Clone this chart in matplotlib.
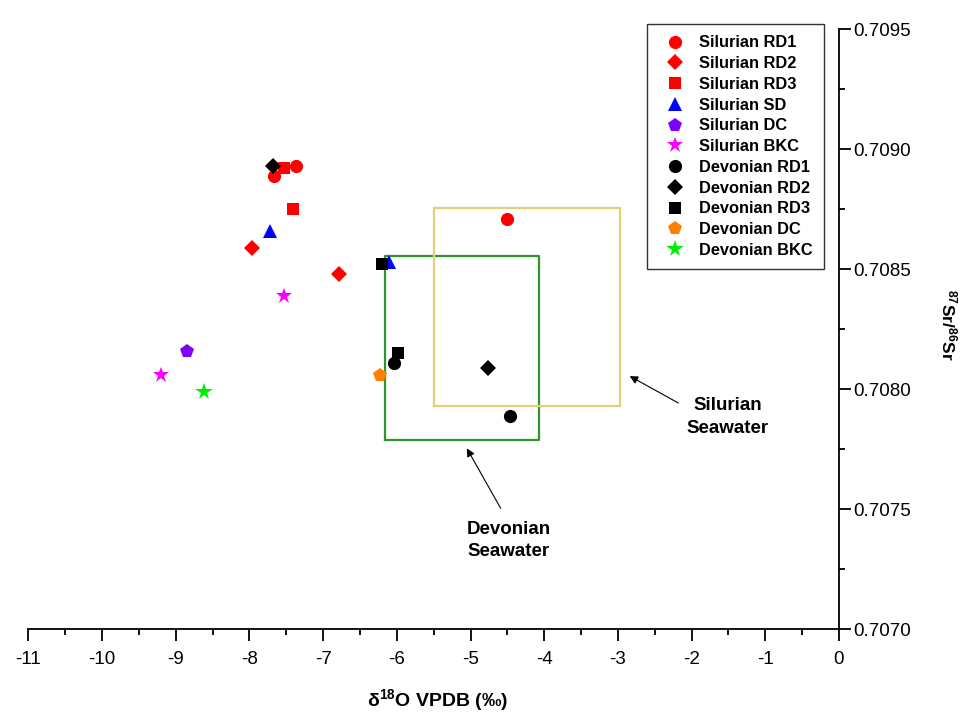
import matplotlib
matplotlib.use("Agg")
import matplotlib.pyplot as plt
from matplotlib.ticker import MultipleLocator, FormatStrFormatter

plt.rcParams['font.family'] = ['Liberation Sans', 'DejaVu Sans']
plt.rcParams['mathtext.fontset'] = 'custom'
plt.rcParams['mathtext.rm'] = 'Liberation Sans'
plt.rcParams['mathtext.bf'] = 'Liberation Sans:bold'

# ---- data ----
series_names = ["Silurian RD1", "Silurian RD2", "Silurian RD3", "Silurian SD", "Silurian DC",
                "Silurian BKC", "Devonian RD1", "Devonian RD2", "Devonian RD3", "Devonian DC",
                "Devonian BKC"]
sil_rd1_x = [-7.37, -7.66, -4.50]
sil_rd1_y = [0.70893, 0.70889, 0.70871]
sil_rd2_x = [-7.96, -6.79]
sil_rd2_y = [0.70859, 0.70848]
sil_rd3_x = [-7.53, -7.41]
sil_rd3_y = [0.70892, 0.70875]
sil_sd_x = [-7.72, -6.11]
sil_sd_y = [0.70866, 0.70853]
sil_dc_x = [-8.85]
sil_dc_y = [0.70816]
sil_bkc_x = [-9.20, -7.53]
sil_bkc_y = [0.70806, 0.70839]
dev_rd1_x = [-6.04, -4.46]
dev_rd1_y = [0.70811, 0.70789]
dev_rd2_x = [-7.68, -4.76]
dev_rd2_y = [0.70893, 0.70809]
dev_rd3_x = [-6.20, -5.98]
dev_rd3_y = [0.70852, 0.70815]
dev_dc_x = [-6.23]
dev_dc_y = [0.70806]
dev_bkc_x = [-8.62]
dev_bkc_y = [0.70799]

# seawater boxes: (xmin, xmax, ymin, ymax)
devonian_box = (-6.16, -4.07, 0.70779, 0.708555)
silurian_box = (-5.50, -2.97, 0.70793, 0.708754)

# annotation text positions and arrows (tail, head)
devonian_text = (-4.48, 0.70737)
silurian_text = (-1.51, 0.707885)
devonian_arrow = ((-4.59, 0.707504), (-5.05, 0.707754))
silurian_arrow = ((-2.18, 0.707943), (-2.84, 0.708055))

xs = [sil_rd1_x, sil_rd2_x, sil_rd3_x, sil_sd_x, sil_dc_x, sil_bkc_x,
      dev_rd1_x, dev_rd2_x, dev_rd3_x, dev_dc_x, dev_bkc_x]
ys = [sil_rd1_y, sil_rd2_y, sil_rd3_y, sil_sd_y, sil_dc_y, sil_bkc_y,
      dev_rd1_y, dev_rd2_y, dev_rd3_y, dev_dc_y, dev_bkc_y]
markers = ['o', 'D', 's', '^', 'p', '*', 'o', 'D', 's', 'p', '*']
colors = ['#ff0000', '#ff0000', '#ff0000', '#0000ff', '#7f00ff', '#ff00ff',
          '#000000', '#000000', '#000000', '#ff8000', '#00ee00']
msizes = [9.5, 8, 8, 10, 10.5, 12, 9.5, 8, 8, 10.5, 13]

fig = plt.figure(figsize=(9.65, 7.15), dpi=100)
ax = fig.add_axes([28.3/965, 85.7/715, (839-28.3)/965, 600/715])

def draw_box(b, color):
    x0, x1, y0, y1 = b
    ax.plot([x0, x1, x1, x0, x0], [y0, y0, y1, y1, y0], color=color, lw=1.6, zorder=1)

draw_box(devonian_box, '#2f962f')
draw_box(silurian_box, '#e3cf78')

handles = []
for name, x, y, m, c, s in zip(series_names, xs, ys, markers, colors, msizes):
    h, = ax.plot(x, y, linestyle='none', marker=m, color=c, markersize=s,
                 markeredgewidth=0, label=name, zorder=3)
    handles.append(h)

ax.set_xlim(-11, 0)
ax.set_ylim(0.7070, 0.7095)
ax.spines['top'].set_visible(False)
ax.spines['left'].set_visible(False)
for sp in ('bottom', 'right'):
    ax.spines[sp].set_linewidth(1.3)
ax.yaxis.tick_right()
ax.yaxis.set_label_position('right')
ax.xaxis.set_major_locator(MultipleLocator(1))
ax.xaxis.set_minor_locator(MultipleLocator(0.5))
ax.yaxis.set_major_locator(MultipleLocator(0.0005))
ax.yaxis.set_minor_locator(MultipleLocator(0.00025))
ax.yaxis.set_major_formatter(FormatStrFormatter('%.4f'))
ax.xaxis.set_major_formatter(FormatStrFormatter('%d'))
ax.tick_params(which='major', direction='out', length=8.5, width=1.3)
ax.tick_params(which='minor', direction='out', length=4.5, width=1.3)
ax.tick_params(axis='x', pad=7, labelsize=13.5)
ax.tick_params(axis='y', pad=2, labelsize=13.5)

xl = ax.set_xlabel(r'$\mathbf{\delta^{18}O}$ VPDB (‰)', fontsize=14, fontweight='bold')
xl.set_va('center')
ax.xaxis.set_label_coords(0.505, -0.118)
yl = ax.set_ylabel(r'$\mathbf{^{87}Sr/^{86}Sr}$', fontsize=12.5, fontweight='bold', rotation=-90)
yl.set_va('center')
yl.set_ha('center')
ax.yaxis.set_label_coords(1.135, 0.507)

# annotations
for txt, pos in (('Devonian\nSeawater', devonian_text), ('Silurian\nSeawater', silurian_text)):
    ax.text(pos[0], pos[1], txt, ha='center', va='center', fontsize=13.5,
            fontweight='bold', linespacing=1.45)
for tail, head in (devonian_arrow, silurian_arrow):
    ax.annotate('', xy=head, xytext=tail,
                arrowprops=dict(arrowstyle='-|>', color='black', lw=0.8, mutation_scale=12,
                                shrinkA=0, shrinkB=0))

leg = ax.legend(handles=handles, loc='upper left',
                bbox_to_anchor=(646.7/965, 1 - 24/715), bbox_transform=fig.transFigure,
                borderaxespad=0, frameon=True, fancybox=False, edgecolor='black',
                prop={'weight': 'bold', 'size': 11.8}, labelspacing=0.35,
                handletextpad=0.5, borderpad=0.7, handlelength=2.0, numpoints=1)
leg.get_frame().set_linewidth(1.0)

fig.savefig('out.png', dpi=100)
